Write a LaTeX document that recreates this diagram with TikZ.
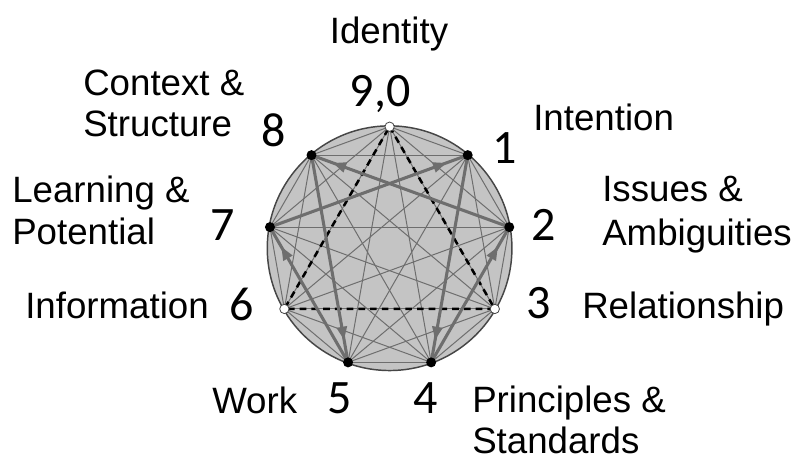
\documentclass[tikz,border=0pt]{standalone}
\usepackage{fontspec}
\setmainfont{Liberation Sans}
\newfontfamily\numfont{Carlito}
\usetikzlibrary{arrows.meta,decorations.markings}

\definecolor{discfill}{RGB}{196,196,196}
\definecolor{rimgray}{RGB}{70,70,70}
\definecolor{chordgray}{RGB}{110,110,110}
\definecolor{flowgray}{RGB}{110,110,110}

\begin{document}
\begin{tikzpicture}[x=0.75pt,y=-0.75pt,
  lbl/.style={font=\fontsize{27.5}{33}\selectfont, inner sep=0pt, anchor=base west},
  num/.style={font=\numfont\fontsize{36}{42}\selectfont, inner sep=0pt, anchor=base},
  chord/.style={draw=chordgray, line width=0.75pt},
  flow/.style={draw=flowgray, line width=2.3pt, postaction={decorate},
    decoration={markings, mark=at position -17pt with {\arrow[flowgray]{Triangle[length=10pt,width=7.5pt]}}}},
  tri/.style={draw=black, line width=1.9pt, dash pattern=on 5pt off 3.8pt},
  fulldot/.style={circle, fill=black, inner sep=0pt, minimum size=7.5pt},
  opendot/.style={circle, fill=white, draw=rimgray, line width=0.6pt, inner sep=0pt, minimum size=7pt}]

\useasboundingbox (0,0) rectangle (796,460);

% the disc
\node[circle, fill=discfill, draw=rimgray, line width=1.1pt, inner sep=0pt,
      minimum size=183.5pt] (disc) at (389.6,248.2) {};

% nine points on the rim, 0 at the top, clockwise
\foreach \k in {0,...,8}
  \coordinate (p\k) at ({389.6+121.5*cos(90-40*\k)},{248.2-121.5*sin(90-40*\k)});

% every chord between the nine points
\foreach \a in {0,...,7} {
  \pgfmathtruncatemacro\s{\a+1}
  \foreach \b in {\s,...,8}
    \draw[chord] (p\a) -- (p\b);
}

% triangle 9-3-6
\draw[tri] (p0) -- (p3) -- (p6) -- cycle;

% hexad 1-4-2-8-5-7-1
\draw[flow] (p1) -- (p4);
\draw[flow] (p4) -- (p2);
\draw[flow] (p2) -- (p8);
\draw[flow] (p8) -- (p5);
\draw[flow] (p5) -- (p7);
\draw[flow] (p7) -- (p1);

% point markers
\foreach \k in {1,2,4,5,7,8}
  \node[fulldot] (d\k) at (p\k) {};
\foreach \k in {0,3,6}
  \node[opendot] (d\k) at (p\k) {};

% numbers
\node[num] (n0) at (380,107) {9,0};
\node[num] (n1) at (505,163) {1};
\node[num] (n2) at (544,240) {2};
\node[num] (n3) at (539,318) {3};
\node[num] (n4) at (426,413) {4};
\node[num] (n5) at (340,413) {5};
\node[num] (n6) at (242,320) {6};
\node[num] (n7) at (223,240) {7};
\node[num] (n8) at (274,146) {8};

% labels
\node[lbl, anchor=base] (t0) at (389,44) {Identity};
\node[lbl] (t1) at (533,130) {Intention};
\node[lbl] (t2a) at (602,201) {Issues \&};
\node[lbl] (t2b) at (602,245) {Ambiguities};
\node[lbl] (t3) at (582,318) {Relationship};
\node[lbl] (t4a) at (472,412) {Principles \&};
\node[lbl] (t4b) at (472,453) {Standards};
\node[lbl] (t5) at (212,413) {Work};
\node[lbl] (t6) at (25,318) {Information};
\node[lbl] (t7a) at (12,202) {Learning \&};
\node[lbl] (t7b) at (12,244) {Potential};
\node[lbl] (t8a) at (83,95) {Context \&};
\node[lbl] (t8b) at (83,137) {Structure};
\end{tikzpicture}
\end{document}
